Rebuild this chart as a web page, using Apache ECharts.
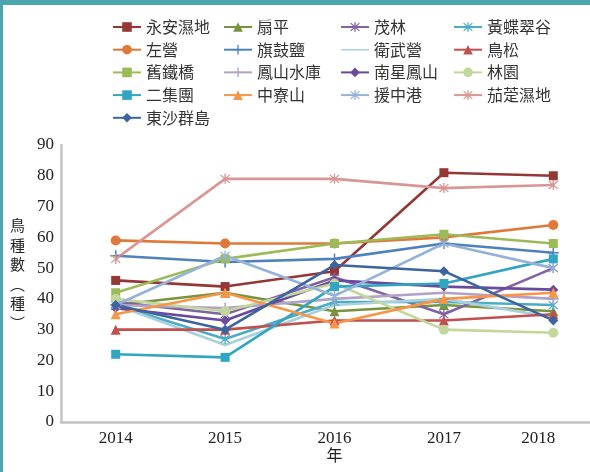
<!DOCTYPE html>
<html><head><meta charset="utf-8">
<script src="https://cdn.jsdelivr.net/npm/echarts@6/dist/echarts.min.js"></script>
<style>
html,body{margin:0;padding:0;background:#fff;}
#c{width:590px;height:472px;position:relative;}
.bt{position:absolute;left:0;top:0;width:590px;height:5px;background:#4BA6AD;z-index:5;}
.bl{position:absolute;left:0;top:0;width:3px;height:472px;background:#4BA6AD;z-index:5;}
</style></head>
<body>
<div class="bt"></div><div class="bl"></div>
<div id="c"></div>
<script>
var years = ['2014','2015','2016','2017','2018'];
var yTicks = [0,10,20,30,40,50,60,70,80,90];
var yTitle = '鳥\n種\n數\n︵\n種\n︶';
var xTitle = '年';

var names = ['永安濕地','扇平','茂林','黃蝶翠谷','左營','旗鼓鹽','衛武營','鳥松','舊鐵橋','鳳山水庫','南星鳳山','林園','二集團','中寮山','援中港','茄萣濕地','東沙群島'];

var yongAn     = [46, 44, 49, 81, 80];
var shanPing   = [38, 42, 36, 38, 36];
var maoLin     = [39, 35, 47, 35, 50];
var huangDie   = [38, 27, 39, 39, 38];
var zuoYing    = [59, 58, 58, 60, 64];
var qiGu       = [54, 52, 53, 58, 55];
var weiWu      = [38, 25, 38, 40, 34];
var niaoSong   = [30, 30, 33, 33, 35];
var jiuTie     = [42, 53, 58, 61, 58];
var fengShanSK = [38, 37, 40, 42, 40];
var nanXing    = [37, 33, 46, 44, 43];
var linYuan    = [40, 36, 45, 30, 29];
var erJi       = [22, 21, 44, 45, 53];
var zhongLiao  = [35, 42, 32, 40, 42];
var yuanZhong  = [38, 54, 41, 58, 50];
var qieDing    = [53, 79, 79, 76, 77];
var dongSha    = [38, 30, 51, 49, 33];

var values = [yongAn, shanPing, maoLin, huangDie, zuoYing, qiGu, weiWu, niaoSong, jiuTie, fengShanSK, nanXing, linYuan, erJi, zhongLiao, yuanZhong, qieDing, dongSha];

var colors = ['#953735','#77933C','#8064A2','#4BACC6','#E0783A','#4F81BD','#A9D0DC','#C0504D','#9BBB59','#B3A2C7','#6A4A9C','#C3D69B','#31A5C2','#F79646','#95B3D7','#D99694','#3B64A0'];

var STAR = 'path://M4.4,0H5.6V10H4.4Z M0.6,1.4L1.4,0.6L9.4,8.6L8.6,9.4Z M8.6,0.6L9.4,1.4L1.4,9.4L0.6,8.6Z';
var PLUS = 'path://M4.3,0H5.7V4.3H10V5.7H5.7V10H4.3V5.7H0V4.3H4.3Z';
var LINEICON = 'path://M0,0L0.01,0L0,0.01Z M0,5.2H28V6.8H0Z M28,12L27.99,12L28,11.99Z';
var symbols = ['rect','triangle',STAR,STAR,'circle',PLUS,'none','triangle','rect',PLUS,'diamond','circle','rect','triangle',STAR,STAR,'diamond'];
var sizes = [9,10,10,10,10,11,0,10,9,11,10,10,9,10,10,10,10];

var cols = [
  ['永安濕地','左營','舊鐵橋','二集團','東沙群島'],
  ['扇平','旗鼓鹽','鳳山水庫','中寮山'],
  ['茂林','衛武營','南星鳳山','援中港'],
  ['黃蝶翠谷','鳥松','林園','茄萣濕地']
];
var colLeft = [107, 218, 335, 448];

var series = names.map(function(n, i){
  return {
    name: n, type: 'line', data: values[i],
    symbol: symbols[i], symbolSize: sizes[i], showSymbol: symbols[i] !== 'none',
    lineStyle: {width: 2.6, color: colors[i]},
    itemStyle: {color: colors[i]},
    animation: false
  };
});

var legends = cols.map(function(c, k){
  return {
    data: c.map(function(n){
      var i = names.indexOf(n);
      return symbols[i] === 'none' ? {name: n, icon: LINEICON, itemStyle: {color: colors[i]}} : {name: n};
    }),
    orient: 'vertical', left: colLeft[k], top: 14,
    itemWidth: 28, itemHeight: 12, itemGap: 6.7,
    textStyle: {fontFamily: '"Noto Sans CJK TC"', fontSize: 16, color: '#333'},
    selectedMode: false
  };
});

var chart = echarts.init(document.getElementById('c'), null, {renderer: 'canvas'});
chart.setOption({
  animation: false,
  color: colors,
  legend: legends,
  graphic: [{
    type: 'text', left: 10, top: 216, silent: true,
    style: {text: yTitle, font: '15px "Noto Sans CJK TC"', lineHeight: 19.5, fill: '#222', align: 'left'}
  }],
  grid: {left: 61, width: 547, top: 145, bottom: 50, containLabel: false, outerBoundsMode: 'none'},
  xAxis: {
    type: 'category', data: years, boundaryGap: true,
    name: xTitle, nameLocation: 'middle', nameGap: 25, nameMoveOverlap: false,
    nameTextStyle: {fontFamily: '"Noto Sans CJK TC"', fontSize: 16, color: '#222'},
    axisLine: {lineStyle: {color: '#C4C4C4', width: 2.5}},
    axisTick: {show: false},
    axisLabel: {
      fontFamily: '"Liberation Serif"', fontSize: 17, color: '#222', margin: 8, hideOverlap: false,
      formatter: function(v, i){ return i === years.length - 1 ? '{s|' + v + '}' : v; },
      rich: {s: {fontFamily: '"Liberation Serif"', fontSize: 17, color: '#222', padding: [0, 30, 0, 0]}}
    }
  },
  yAxis: {
    type: 'value', min: yTicks[0], max: yTicks[yTicks.length-1], interval: 10,
    axisLine: {show: true, lineStyle: {color: '#C4C4C4', width: 2.5}},
    axisTick: {show: false},
    splitLine: {show: false},
    axisLabel: {fontFamily: '"Liberation Serif"', fontSize: 17, color: '#222', margin: 7}
  },
  series: series
});
</script>
</body></html>
